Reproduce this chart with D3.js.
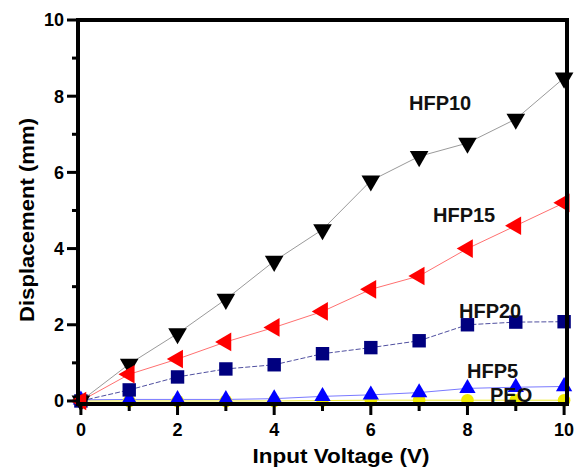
<!DOCTYPE html>
<html>
<head>
<meta charset="utf-8">
<script src="https://cdn.jsdelivr.net/npm/d3@7/dist/d3.min.js"></script>
<style>
  html, body { margin: 0; padding: 0; background: #fff; }
  svg { display: block; }
  text { font-family: "Liberation Sans", Arial, sans-serif; font-weight: bold; }
</style>
</head>
<body>
<svg id="chart" width="581" height="471"></svg>
<script>
const voltage = [0, 1, 2, 3, 4, 5, 6, 7, 8, 9, 10];
const peo   = [0, 0, 0, 0, 0, 0.01, 0.02, 0.02, 0.02, 0.02, 0.02];
const hfp5  = [0.03, 0.04, 0.04, 0.04, 0.06, 0.12, 0.16, 0.22, 0.33, 0.36, 0.38];
const hfp20 = [0, 0.29, 0.63, 0.84, 0.95, 1.24, 1.4, 1.58, 2.0, 2.07, 2.08];
const hfp10 = [0, 0.97, 1.77, 2.67, 3.67, 4.5, 5.78, 6.42, 6.77, 7.4, 8.48];
const hfp15 = [0, 0.7, 1.1, 1.55, 1.93, 2.35, 2.93, 3.28, 4.0, 4.6, 5.2];
const xTicks = [0, 2, 4, 6, 8, 10];
const yTicks = [0, 2, 4, 6, 8, 10];
const xMinor = [1, 3, 5, 7, 9];
const yMinor = [1, 3, 5, 7, 9];

const series = [
  { name: "PEO",   values: peo,   color: "#f0ec00", line: "#eeea30", dash: null,  symbol: d3.symbolCircle,   size: 125, rot: 0,   label: [490, 402] },
  { name: "HFP5",  values: hfp5,  color: "#0000ff", line: "#7a7aff", dash: null,  symbol: d3.symbolTriangle, size: 115, rot: 0,   label: [467, 378] },
  { name: "HFP20", values: hfp20, color: "#00007f", line: "#5050a0", dash: "5,2", symbol: d3.symbolSquare,   size: 180, rot: 0,   label: [459, 318] },
  { name: "HFP10", values: hfp10, color: "#000000", line: "#9a9a9a", dash: null,  symbol: d3.symbolTriangle, size: 150, rot: 180, label: [409, 110] },
  { name: "HFP15", values: hfp15, color: "#ff0000", line: "#ff7070", dash: null,  symbol: d3.symbolTriangle, size: 150, rot: -90, label: [433, 222] }
];

const svg = d3.select("#chart");
const L = 78, T = 20, R = 567, B = 404;

const x = d3.scaleLinear().domain([-0.06, 10.06]).range([L, R]);
const y = d3.scaleLinear().domain([-0.08, 10]).range([B, T]);

// series lines
series.forEach(s => {
  const pts = voltage.map((v, i) => [v, s.values[i]]);
  svg.append("path")
    .datum(pts)
    .attr("fill", "none")
    .attr("stroke", s.line)
    .attr("stroke-width", 1)
    .attr("stroke-dasharray", s.dash)
    .attr("d", d3.line().x(d => x(d[0])).y(d => y(d[1])));
});
// markers
series.forEach(s => {
  const pts = voltage.map((v, i) => [v, s.values[i]]);
  svg.append("g").selectAll("path")
    .data(pts)
    .join("path")
    .attr("d", d3.symbol().type(s.symbol).size(s.size))
    .attr("transform", d => `translate(${x(d[0])},${y(d[1])}) rotate(${s.rot})`)
    .attr("fill", s.color);
});

// series labels
series.forEach(s => {
  svg.append("text")
    .attr("x", s.label[0]).attr("y", s.label[1])
    .attr("font-size", 20)
    .attr("fill", "#111")
    .text(s.name);
});

// ticks as filled rectangles (from the scales)
const tickG = svg.append("g").attr("fill", "#000");
tickG.selectAll("rect.xt").data(xTicks).join("rect").attr("class", "xt")
  .attr("x", d => x(d) - 1.5).attr("width", 3).attr("y", B).attr("height", 11);
tickG.selectAll("rect.xm").data(xMinor).join("rect").attr("class", "xm")
  .attr("x", d => x(d) - 1.5).attr("width", 3).attr("y", B).attr("height", 7);
tickG.selectAll("rect.yt").data(yTicks).join("rect").attr("class", "yt")
  .attr("y", d => y(d) - 1.5).attr("height", 3).attr("x", L - 11).attr("width", 11);
tickG.selectAll("rect.ym").data(yMinor).join("rect").attr("class", "ym")
  .attr("y", d => y(d) - 1.5).attr("height", 3).attr("x", L - 6).attr("width", 6);

// tick labels
svg.append("g").selectAll("text").data(xTicks).join("text")
  .attr("x", d => x(d)).attr("y", B + 32)
  .attr("text-anchor", "middle").attr("font-size", 18).attr("fill", "#000")
  .text(d3.format("d"));
svg.append("g").selectAll("text").data(yTicks).join("text")
  .attr("x", L - 14).attr("y", d => y(d)).attr("dy", "0.36em")
  .attr("text-anchor", "end").attr("font-size", 18).attr("fill", "#000")
  .text(d3.format("d"));

// frame
svg.append("rect")
  .attr("x", L).attr("y", T).attr("width", R - L).attr("height", B - T)
  .attr("fill", "none").attr("stroke", "#000").attr("stroke-width", 4);

// axis titles
svg.append("text")
  .attr("x", 341).attr("y", 463)
  .attr("text-anchor", "middle")
  .attr("font-size", 21)
  .attr("textLength", 177).attr("lengthAdjust", "spacingAndGlyphs")
  .text("Input Voltage (V)");
svg.append("text")
  .attr("transform", "translate(34,220) rotate(-90)")
  .attr("text-anchor", "middle")
  .attr("font-size", 21)
  .attr("textLength", 204).attr("lengthAdjust", "spacingAndGlyphs")
  .text("Displacement (mm)");
</script>
</body>
</html>
